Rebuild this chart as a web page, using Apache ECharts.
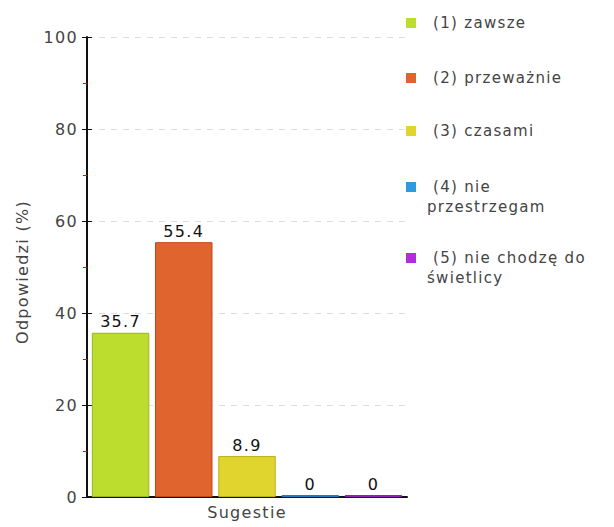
<!DOCTYPE html>
<html><head><meta charset="utf-8">
<script src="https://cdn.jsdelivr.net/npm/echarts@6/dist/echarts.min.js"></script>
<style>html,body{margin:0;padding:0;background:#fff}#c{width:614px;height:527px}#c svg text{letter-spacing:1.3px}</style>
</head><body><div id="c"></div>
<script>
const categories = ['Sugestie'];
const seriesNames = ['(1) zawsze', '(2) przeważnie', '(3) czasami', '(4) nie przestrzegam', '(5) nie chodzę do świetlicy'];
const legendLabels = [' (1) zawsze', ' (2) przeważnie', ' (3) czasami', ' (4) nie\nprzestrzegam', ' (5) nie chodzę do\nświetlicy'];
const values = [35.7, 55.4, 8.9, 0, 0];
const yTicks = [0, 20, 40, 60, 80, 100];
const colors = ['#bcdd2e', '#e0642e', '#e0d42e', '#2e9ae0', '#b02ee0'];
const borders = ['#9ab51c', '#c0461a', '#bfb11c', '#1c7bbf', '#8e1cbf'];
const legendCenters = [23, 78, 131, 187, 258];
const font = 'DejaVu Sans';
const LH = 20;

const chart = echarts.init(document.getElementById('c'), null, { renderer: 'svg' });
const series = seriesNames.map((n, i) => ({
  name: n, type: 'bar', data: [values[i]],
  barGap: '10%', barCategoryGap: '3%', barMinHeight: 2,
  itemStyle: { color: colors[i], borderColor: borders[i], borderWidth: 1 },
  label: { show: true, position: 'top', color: '#111', fontFamily: font, fontSize: 16, distance: 3 }
}));
const legends = seriesNames.map((n, i) => {
  const multi = legendLabels[i].indexOf('\n') >= 0;
  const h = multi ? LH + 10 : 10;
  return {
    data: [n], left: 406, top: legendCenters[i] - LH / 2,
    orient: 'vertical', padding: 0,
    itemWidth: 16, itemHeight: h, itemGap: 0,
    icon: 'path://M0,0L10,0L10,10L0,10Z M16,' + h + 'L16,' + h,
    itemStyle: { borderWidth: 0 },
    formatter: () => legendLabels[i],
    textStyle: { fontFamily: font, fontSize: 15, color: '#444', lineHeight: LH }
  };
});
chart.setOption({
  animation: false,
  color: colors,
  legend: legends,
  grid: { left: 87, right: 207, top: 37, bottom: 30 },
  xAxis: {
    type: 'category', data: categories,
    axisLine: { lineStyle: { color: '#111', width: 2 } },
    axisTick: { alignWithLabel: true, length: 5, lineStyle: { color: '#111' } },
    axisLabel: { fontFamily: font, fontSize: 16, color: '#444', margin: 7 }
  },
  yAxis: [{
    type: 'value', min: yTicks[0], max: yTicks[yTicks.length - 1], interval: 20,
    name: 'Odpowiedzi (%)', nameLocation: 'middle', nameGap: 57, nameRotate: 90,
    nameTextStyle: { fontFamily: font, fontSize: 16, color: '#444', padding: [0, 10, 0, 0] },
    axisLine: { show: true, lineStyle: { color: '#111', width: 2 } },
    axisTick: { show: true, length: 5, lineStyle: { color: '#111' } },
    minorTick: { show: true, splitNumber: 2, length: 4, lineStyle: { color: '#f00' } },
    axisLabel: { fontFamily: font, fontSize: 16, color: '#444', margin: 9 },
    splitLine: { show: true, lineStyle: { color: '#ddd', type: [6, 6] } }
  }, {
    type: 'value', position: 'left', min: yTicks[0], max: yTicks[yTicks.length - 1], interval: 20,
    axisLine: { show: false },
    axisTick: { show: true, inside: true, length: 5, lineStyle: { color: '#111' } },
    axisLabel: { show: false },
    splitLine: { show: false }
  }],
  series: series
});
</script></body></html>
